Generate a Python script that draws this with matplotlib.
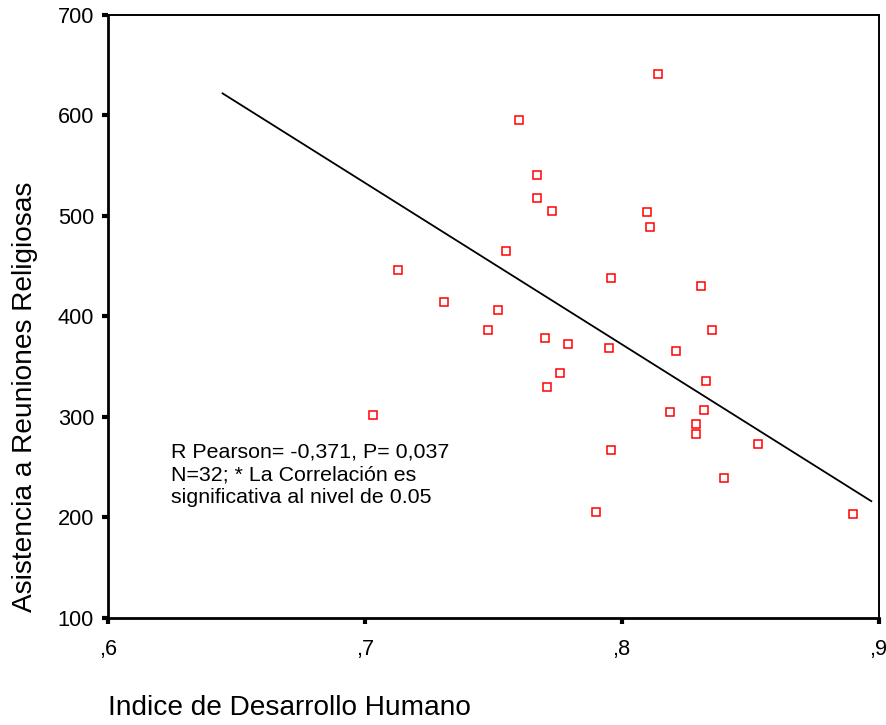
import numpy as np
import matplotlib
matplotlib.use("Agg")
import matplotlib.pyplot as plt

plt.rcParams['font.family'] = ['Liberation Sans', 'DejaVu Sans']

# Indice de Desarrollo Humano vs asistencia a reuniones religiosas
idh = [0.814, 0.760, 0.767, 0.767, 0.773, 0.810, 0.811, 0.755, 0.796, 0.831,
       0.731, 0.752, 0.748, 0.835, 0.770, 0.779, 0.795, 0.821, 0.776, 0.771,
       0.833, 0.819, 0.832, 0.829, 0.829, 0.853, 0.796, 0.840, 0.790, 0.890,
       0.713, 0.703]
asistencia = [641, 595, 541, 518, 505, 504, 489, 465, 438, 430,
              414, 406, 386, 386, 378, 372, 368, 366, 344, 330,
              336, 305, 307, 293, 283, 273, 267, 239, 205, 203,
              446, 302]

# recta de regresion (extremos)
fit_x = [0.6446, 0.8972]
fit_y = [622, 216]

xticks = [0.6, 0.7, 0.8, 0.9]
xticklabels = [",6", ",7", ",8", ",9"]
yticks = [100, 200, 300, 400, 500, 600, 700]

fig = plt.figure(figsize=(8.86, 7.25), dpi=100)
ax = fig.add_axes([108 / 886, 1 - 617.7 / 725, 770.5 / 886, 602.7 / 725])

ax.plot(fit_x, fit_y, color='black', lw=1.3)
ax.plot(idh, asistencia, linestyle='none', marker='s', markersize=6.3,
        markerfacecolor='none', markeredgecolor='red', markeredgewidth=1.1)

ax.set_xlim(0.6, 0.9)
ax.set_ylim(100, 700)
ax.set_xticks(xticks)
ax.set_xticklabels(xticklabels)
ax.set_yticks(yticks)
ax.tick_params(axis='both', direction='out', length=4, width=3, labelsize=15.7)
ax.tick_params(axis='x', pad=11)
ax.tick_params(axis='y', pad=6)

for side in ['left', 'bottom']:
    ax.spines[side].set_linewidth(2)
for side in ['top', 'right']:
    ax.spines[side].set_linewidth(1.4)

ax.text(0.6244, 274, "R Pearson= -0,371, P= 0,037\nN=32; * La Correlación es\nsignificativa al nivel de 0.05",
        fontsize=15.4, va='top', ha='left', linespacing=1.24)

fig.text(25 / 886, 1 - 397 / 725, "Asistencia a Reuniones Religiosas", fontsize=20.2,
         rotation=90, ha='center', va='center')
fig.text(108 / 886, 1 - 708 / 725, "Indice de Desarrollo Humano", fontsize=20.2,
         ha='left', va='center')

plt.savefig("out.png")
plt.close()
